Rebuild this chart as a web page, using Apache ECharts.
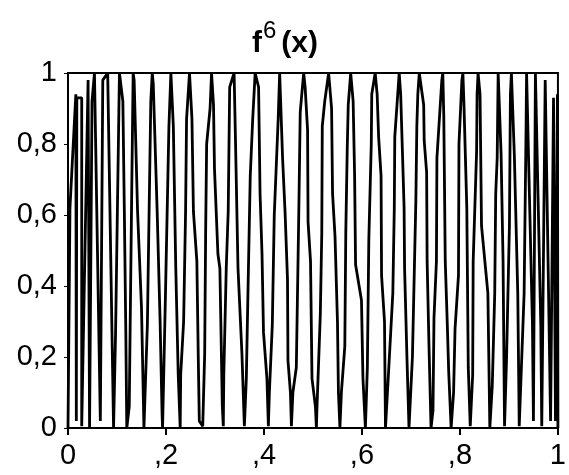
<!DOCTYPE html>
<html>
<head>
<meta charset="utf-8">
<script src="https://cdn.jsdelivr.net/npm/echarts@6/dist/echarts.min.js"></script>
<style>
  html, body { margin: 0; padding: 0; background: #fff; }
  #chart { width: 569px; height: 475px; }
</style>
</head>
<body>
<div id="chart"></div>
<script>
// points, left to right
var xs = [
  0, 0.004, 0.016, 0.017, 0.018, 0.028, 0.028, 0.041, 0.044, 0.049, 0.054, 0.066, 0.071, 0.081, 0.093,
  0.097, 0.105, 0.112, 0.115, 0.118, 0.120, 0.125, 0.130, 0.133, 0.135, 0.142, 0.150, 0.155, 0.162,
  0.169, 0.172, 0.174, 0.182, 0.188, 0.192, 0.193, 0.199, 0.206, 0.210, 0.215, 0.220, 0.225, 0.229,
  0.230, 0.236, 0.240, 0.242, 0.248, 0.253, 0.256, 0.263, 0.266, 0.268, 0.275,
  0.279, 0.281, 0.283, 0.290, 0.293, 0.297, 0.299, 0.306, 0.310, 0.315, 0.317,
  0.318, 0.323, 0.327, 0.330, 0.339, 0.342, 0.347, 0.350, 0.355, 0.360,
  0.364, 0.367, 0.372, 0.377, 0.382, 0.389, 0.392, 0.396, 0.399, 0.406, 0.409,
  0.411, 0.417, 0.421, 0.429, 0.432, 0.438, 0.443, 0.448, 0.449, 0.454, 0.456,
  0.459, 0.466, 0.471, 0.474, 0.481, 0.484, 0.489, 0.490, 0.495, 0.498, 0.505, 0.507,
  0.508, 0.515, 0.518, 0.519, 0.524, 0.532, 0.538, 0.540, 0.545, 0.550, 0.552, 0.555,
  0.558, 0.565, 0.567, 0.570, 0.572, 0.577, 0.582, 0.585, 0.587, 0.599, 0.602, 0.607,
  0.611, 0.614, 0.619, 0.620, 0.627, 0.631, 0.634, 0.639, 0.640, 0.646, 0.648, 0.652,
  0.654, 0.663, 0.666, 0.667, 0.676, 0.679, 0.683, 0.686, 0.687, 0.692, 0.696,
  0.703, 0.710, 0.712, 0.714, 0.717, 0.726, 0.727, 0.732, 0.733, 0.737, 0.741,
  0.745, 0.747, 0.752, 0.753, 0.763, 0.765, 0.767, 0.770, 0.774, 0.777, 0.782,
  0.787, 0.790, 0.797, 0.798, 0.804, 0.806, 0.808, 0.814, 0.817, 0.821, 0.823,
  0.826, 0.827, 0.834, 0.835, 0.837, 0.841, 0.844, 0.857, 0.861,
  0.866, 0.871, 0.873, 0.876, 0.878, 0.884, 0.888, 0.891,
  0.895, 0.901, 0.903, 0.905, 0.911, 0.918, 0.921,
  0.931, 0.935, 0.936, 0.948, 0.950, 0.954, 0.965, 0.967, 0.974, 0.985, 0.991, 0.995, 0.999, 1.0
];
var ys = [
  0, 0.62, 0.94, 0.02, 0.93, 0.93, 0.005, 0.98, 0, 0.92, 1.0, 0.02, 0.98, 1.0, 0,
  0.26, 1.0, 0.92, 0.61, 0.27, 0, 0.06, 0.66, 1.0, 0.98, 0.61, 0.34, 0, 0.29,
  0.92, 1.0, 0.97, 0.61, 0.30, 0.04, 0, 0.38, 0.85, 1.0, 0.85, 0.45, 0.15, 0,
  0.15, 0.30, 0.61, 0.87, 1.0, 0.87, 0.61, 0.47, 0.19, 0.02, 0.005,
  0.21, 0.56, 0.80, 0.90, 1.0, 0.91, 0.73, 0.49, 0.45, 0.06, 0.005,
  0.15, 0.45, 0.61, 0.96, 1.0, 0.80, 0.45, 0.36, 0.21, 0.005,
  0.14, 0.36, 0.71, 0.87, 1.0, 0.96, 0.66, 0.49, 0.27, 0.14, 0.005,
  0.10, 0.29, 0.60, 0.87, 1.0, 0.76, 0.61, 0.42, 0.19, 0.10, 0.005,
  0.10, 0.17, 0.60, 0.89, 1.0, 0.96, 0.84, 0.58, 0.47, 0.14, 0.06, 0,
  0.05, 0.32, 0.55, 0.85, 0.92, 1.0, 0.90, 0.66, 0.54, 0.30, 0.10, 0,
  0.10, 0.23, 0.55, 0.79, 0.91, 1.0, 0.92, 0.71, 0.46, 0.36, 0.14, 0,
  0.17, 0.53, 0.80, 0.94, 1.0, 0.94, 0.82, 0.71, 0.43, 0.30, 0, 0.005,
  0.15, 0.38, 0.62, 0.82, 1.0, 0.94, 0.76, 0.62, 0.45, 0.19, 0,
  0.20, 0.64, 0.85, 0.94, 1.0, 0.91, 0.81, 0.72, 0.47, 0.22, 0,
  0.05, 0.31, 0.47, 0.76, 0.98, 1.0, 0.88, 0.47, 0.30, 0.16, 0,
  0.10, 0.28, 0.43, 0.80, 0.98, 1.0, 0.92, 0.62, 0.17, 0.005, 0,
  0.15, 0.47, 0.78, 0.94, 1.0, 0.94, 0.57, 0.38, 0,
  0.12, 0.38, 0.66, 0.76, 1.0, 0.77, 0.47, 0.005,
  0.19, 0.57, 0.94, 1.0, 0.77, 0.38, 0.005,
  0.38, 0.85, 1.0, 0.29, 0.02, 1.0, 0.29, 0.005, 0.98, 0.02, 0.93, 0.02, 0.94, 0
];
var xTicks = ['0', ',2', ',4', ',6', ',8', '1'];
var yTicks = ['0', '0,2', '0,4', '0,6', '0,8', '1'];

var points = xs.map(function (x, i) { return [x, ys[i]]; });
var font = 'Liberation Sans';

var chart = echarts.init(document.getElementById('chart'));
chart.setOption({
  animation: false,
  backgroundColor: '#fff',
  title: {
    text: '{b|f}{sup|6}{b|(x)}',
    left: 247,
    top: 14,
    textStyle: {
      rich: {
        b: { fontFamily: font, fontSize: 30, fontWeight: 'bold', color: '#000' },
        sup: { fontFamily: font, fontSize: 24, fontWeight: 'normal', color: '#000', padding: [0, 5, 26, 1] }
      }
    }
  },
  grid: {
    left: 68, right: 5, top: 73, bottom: 47,
    show: true, borderColor: '#000', borderWidth: 2
  },
  xAxis: {
    type: 'value', min: 0, max: 1, interval: 0.2,
    axisLine: { show: true, lineStyle: { color: '#000', width: 2 } },
    axisTick: { show: true, length: 7, lineStyle: { color: '#000', width: 2 } },
    splitLine: { show: false },
    axisLabel: {
      margin: 13, color: '#000', fontFamily: font, fontSize: 29,
      formatter: function (v) { return xTicks[Math.round(v * 5)]; }
    }
  },
  yAxis: {
    type: 'value', min: 0, max: 1, interval: 0.2,
    axisLine: { show: true, lineStyle: { color: '#000', width: 2 } },
    axisTick: { show: true, length: 4, lineStyle: { color: '#000', width: 1 } },
    splitLine: { show: false },
    axisLabel: {
      margin: 11, color: '#000', fontFamily: font, fontSize: 29,
      formatter: function (v) { return yTicks[Math.round(v * 5)]; }
    }
  },
  series: [{
    type: 'line',
    data: points,
    showSymbol: false,
    lineStyle: { color: '#000', width: 2.8 }
  }]
});
</script>
</body>
</html>
